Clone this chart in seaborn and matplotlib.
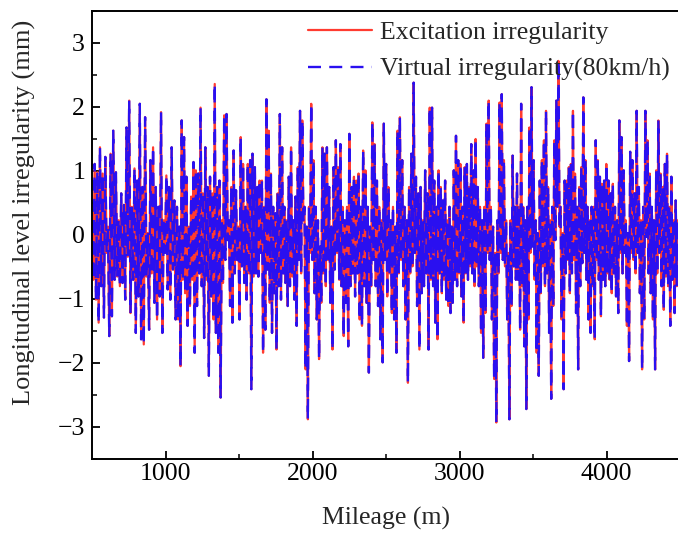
import numpy as np
import pandas as pd
import matplotlib
matplotlib.use("Agg")
import matplotlib.pyplot as plt
import seaborn as sns

# ---------------- data (mm) ----------------
# Mileage segments (m) over which each block of readings is spread
seg_bounds = [500, 1078, 1656, 2235, 2813, 3391, 3969, 4500]

seg1 = [0.23, -0.70, 1.11, -1.01, 0.98, -1.37, 1.37, -0.80, 0.96, -1.29, 1.22, -0.28, 0.13, -1.58,
        1.27, -1.27, 1.63, -0.70, 0.98, -0.65, 0.23, -0.80, 0.65, -0.75, 0.47, -1.01, 1.68, -0.34,
        2.10, -1.22, 0.44, -0.70, 1.04, -1.53, 0.85, -0.96, 2.05, -1.63, 0.75, -1.71, 1.84, -0.65,
        0.03, -1.48, 1.17, -0.60, 1.37, -1.06, 0.75, -1.32, 0.44, -0.96, 1.92, -1.53, 0.23, -0.28,
        0.93, -0.85, 0.75, -1.01, 1.37, -0.54, 0.54, -1.32]
seg2 = [0.44, -1.32, 0.13, -2.05, 1.79, -0.70, 1.53, -0.91, 0.91, -1.42, 0.13, -1.11, 0.60, -0.70,
        1.14, -1.84, 1.01, -1.11, 0.96, -0.60, 1.99, -0.80, 0.65, -1.61, 1.37, -0.70, 0.75, -2.20,
        0.91, -0.96, 0.65, -1.32, 2.36, -1.53, 0.75, -1.84, 0.85, -2.54, 0.23, -0.75, 1.87, -0.39,
        1.89, -0.08, 0.23, -1.11, 0.75, -1.37, 1.32, -0.60, 0.70, -0.39, 0.13, -1.32, 1.53, -0.49,
        1.11, -0.75, 0.44, -1.01, 1.11, -0.60, 1.17, -2.41, 1.27, -0.65, 1.06, -0.60, 0.75, -0.65,
        0.85, -0.28]
seg3 = [0.85, -1.84, 0.44, -1.48, 2.12, -0.54, 1.63, -1.06, 0.96, -1.53, 0.44, -0.91, 0.34, -1.79,
        0.65, -0.80, 1.89, -1.01, 1.37, -0.60, 0.44, -0.75, 0.23, -1.11, 0.91, -0.80, 1.37, -0.65,
        0.23, -1.01, 0.60, -1.42, 1.06, -0.39, 1.94, -0.60, 1.79, 0.23, 0.44, -2.10, 0.13, -2.88,
        0.44, -0.28, 2.05, -0.39, 1.17, -0.91, 0.44, -1.32, 0.23, -1.94, -0.18, -1.06, 1.37, -0.60,
        1.27, -0.80, 1.37, -0.39, 0.75, -1.06, 0.13, -1.79, 1.06, -0.54, 1.48, -0.28, 1.06, -0.70,
        1.42, -0.80, 0.44, -1.58, 0.23, -1.06]
seg4 = [0.44, -1.74, 1.58, -0.80, 0.75, -0.60, 0.91, -0.96, 0.85, -0.60, 0.96, -1.32, 0.44, -1.42,
        1.32, -0.80, 1.01, -1.06, 0.44, -2.15, 0.13, -0.80, 1.76, -0.39, 1.42, -0.80, 0.85, -1.11,
        0.44, -1.63, 0.23, -1.99, 1.74, -0.39, 1.11, -0.96, 0.75, -0.60, 0.23, -1.22, 0.44, -1.32,
        0.13, -1.84, 1.63, -0.60, 1.84, -0.39, 1.17, -0.80, 0.44, -1.32, 0.23, -2.31, 0.75, -0.60,
        1.27, -0.49, 2.38, -0.28, 0.91, -1.11, 0.65, -1.79, 0.75, -0.91, 0.23, -0.80, 1.01, -0.60,
        0.65, -1.79, 1.99, -0.70]
seg5 = [1.99, -0.80, 0.85, -1.37, 0.44, -1.63, 1.01, -0.60, 0.75, -0.91, 0.54, -0.70, 0.85, -1.01,
        0.23, -1.11, 0.44, -1.22, 0.13, -1.06, 1.01, -0.70, 1.55, -0.80, 1.17, -0.60, 1.11, -0.96,
        0.44, -1.37, 1.06, -0.60, 1.11, -0.70, 0.75, -0.49, 1.42, -0.60, 1.01, -0.80, 1.50, -0.49,
        0.75, -0.80, 0.44, -1.53, 0.23, -1.92, 0.44, -1.22, 1.74, -0.28, 2.10, -0.39, 0.44, -1.32,
        0.13, -2.25, -0.28, -2.93, 0.23, -0.60, 2.07, -0.28, 2.20, -0.39, 1.17, -0.49, 0.23, -1.32,
        -0.28, -2.88, 0.23, -1.11, 1.24, -0.49, 0.44, -0.70]
seg6 = [0.96, -0.70, 0.44, -1.48, 2.05, -0.80, 0.44, -1.74, 0.23, -2.72, 0.44, -1.32, 1.68, -0.28,
        2.31, -0.18, 1.17, -0.70, 0.23, -1.84, 0.03, -2.20, 0.85, -0.91, 1.17, -0.49, 1.48, -0.80,
        1.94, -0.60, 0.75, -1.53, 0.23, -2.56, 0.44, -1.11, 1.48, -0.08, 2.10, 0.44, 2.72, 0.13,
        0.44, -1.32, 0.03, -2.41, 0.85, -0.60, 0.85, -0.39, 1.06, -0.91, 1.11, -0.60, 1.94, -0.39,
        0.96, -1.22, 0.44, -2.10, 0.75, -0.80, 1.06, -0.44, 2.15, -0.28, 1.17, -0.70, 0.44, -1.32,
        0.23, -1.53, 0.44, -0.80, 0.44, -1.63, 1.48, -0.39, 1.17, -0.70, 0.91, -1.27]
seg7 = [0.80, -0.70, 0.85, -0.80, 1.11, -0.60, 0.85, -0.70, 0.65, -0.91, 0.80, -0.60, 0.44, -0.96,
        0.23, -1.22, 1.79, -0.28, 1.53, -0.60, 1.01, -0.28, 0.23, -1.42, 0.03, -1.97, 1.30, -0.28,
        1.17, -0.39, 0.65, -0.60, 1.94, -0.28, 0.75, -0.91, 0.23, -2.10, 0.44, -1.32, 1.94, -0.03,
        1.48, -0.60, 0.96, -0.91, 0.44, -1.32, 0.23, -2.10, 1.01, -0.60, 1.79, -0.28, 0.96, -0.80,
        0.75, -1.17, 1.11, -0.65, 1.27, -0.80, 0.44, -1.42, 0.91, -0.70, 0.23, -1.22, 0.54, -0.80,
        0.23, -0.60]

segments = [seg1, seg2, seg3, seg4, seg5, seg6, seg7]

mileage = np.concatenate([
    np.linspace(seg_bounds[i], seg_bounds[i + 1], len(s), endpoint=False)
    for i, s in enumerate(segments)
])
excitation = np.concatenate(segments)
virtual_80kmh = excitation.copy()   # virtual irregularity overlaps the excitation

label_exc = "Excitation irregularity"
label_vir = "Virtual irregularity(80km/h)"

df = pd.DataFrame({"Mileage": mileage, "Excitation": excitation, "Virtual": virtual_80kmh})

# ---------------- style ----------------
sns.set_theme(style="ticks")
plt.rcParams["font.family"] = ["Liberation Serif", "DejaVu Serif"]
fs = 18.5

fig = plt.figure(figsize=(6.78, 5.36), dpi=100)
ax = fig.add_axes([0.1357, 0.1437, 0.8673, 0.8358])

sns.lineplot(data=df, x="Mileage", y="Excitation", ax=ax, estimator=None, sort=False,
             color="#ff3b30", linewidth=1.6, label=label_exc)
sns.lineplot(data=df, x="Mileage", y="Virtual", ax=ax, estimator=None, sort=False,
             color="#2a10f0", linewidth=1.7, dashes=False, label=label_vir)
ax.lines[1].set_linestyle((0, (5.5, 3.5)))

ax.set_xlim(500, 4500)
ax.set_ylim(-3.5, 3.5)
ax.set_xticks([1000, 2000, 3000, 4000])
ax.set_xticks([1500, 2500, 3500], minor=True)
ax.set_yticks([-3, -2, -1, 0, 1, 2, 3])
ax.set_yticks(np.arange(-3.5, 3.6, 0.5), minor=True)
ax.tick_params(which="major", direction="in", length=6, width=1.3, labelsize=fs,
               colors="black", pad=5)
ax.tick_params(axis="x", which="major", pad=3)
ax.tick_params(which="minor", direction="in", length=3.5, width=1.3)
ax.tick_params(axis="x", which="both", top=False, bottom=True)
ax.tick_params(axis="y", which="both", left=True, right=False)
for sp in ax.spines.values():
    sp.set_linewidth(1.4)
    sp.set_color("black")

ax.set_xlabel("Mileage (m)", fontsize=fs, labelpad=16)
ax.set_ylabel("Longitudinal level irregularity (mm)", fontsize=19)
ax.yaxis.set_label_coords(-0.095, 0.551)

leg = ax.legend(loc="upper left", bbox_to_anchor=(0.367, 0.978), frameon=False,
                fontsize=fs, handlelength=2.5, handletextpad=0.3, borderpad=0,
                borderaxespad=0, labelspacing=0.55)

fig.savefig("out.png", dpi=100)
